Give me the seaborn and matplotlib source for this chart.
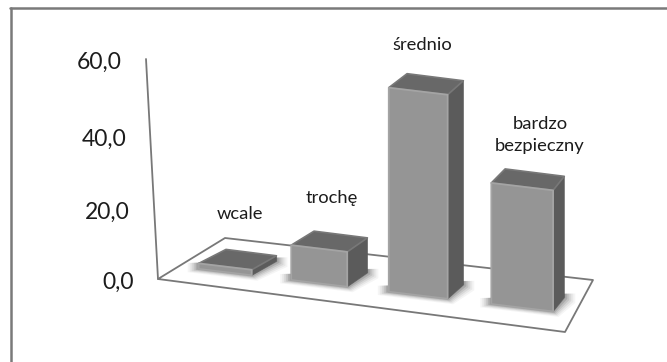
import matplotlib
matplotlib.use("Agg")
import matplotlib.pyplot as plt
import numpy as np
import pandas as pd
import seaborn as sns
from matplotlib.patches import Polygon, Rectangle
from matplotlib.lines import Line2D
from matplotlib.transforms import Affine2D, Transform

W, H = 667, 362

categories = ["wcale", "trochę", "średnio", "bardzo\nbezpieczny"]
values = [1.5, 9.5, 55.6, 33.0]
tick_values = [0, 20, 40, 60]
tick_labels = ["0,0", "20,0", "40,0", "60,0"]

FRONT = "#959595"
FRONT_RIM = "#a4a4a4"
SIDE = "#5b5b5b"
TOP = "#686868"
TOP_RIM = "#787878"
LINE = "#787878"
TEXT = "#1c1c1c"

# Centre of each category name, in pixels
name_centres = [(240, 214), (332, 198), (422, 45), (540, 135)]


def px_x(x):
    return 225 + 91.5 * x + 2.5 * x * x


def px_y(x, v):
    return 280 + 0.12 * (px_x(x) - 291) - 3.67 * v


def depth(x):
    return 26 - 4.5 * x


class BarProjection(Transform):
    """Maps (category, value) to pixels on the receding floor line."""
    input_dims = output_dims = 2

    def transform_non_affine(self, pts):
        pts = np.asarray(pts, dtype=float)
        return np.column_stack([px_x(pts[:, 0]), H - px_y(pts[:, 0], pts[:, 1])])


sns.set_theme(style="white")
plt.rcParams["font.family"] = ["Lato", "DejaVu Sans"]

fig = plt.figure(figsize=(W / 100, H / 100), dpi=100, facecolor="white")
ax = fig.add_axes([0, 0, 1, 1])
frame = pd.DataFrame({"level": categories, "share": values})
sns.barplot(data=frame, x="level", y="share", width=0.58, color=FRONT,
            saturation=1, ax=ax, zorder=5)
ax.set_xlim(-1, 5)
ax.set_ylim(-5, 70)
ax.axis("off")

to_px = Affine2D().scale(1, -1).translate(0, H)


def poly(points, **kw):
    ax.add_patch(Polygon(points, closed=True, transform=to_px, clip_on=False,
                         joinstyle="round", **kw))


# Chart border: only the top and left edges are visible
for a, b in [((10, 8), (667, 8)), ((11, 8), (11, 362))]:
    ax.add_line(Line2D(*zip(a, b), transform=to_px, color="#7a7a7a", lw=1.8,
                       clip_on=False, zorder=1))

# Floor and value wall edge
poly([(158, 279), (225, 238), (593, 280), (565, 332)], facecolor="white",
     edgecolor=LINE, lw=1.3, zorder=2)
ax.add_line(Line2D([146, 158], [59, 279], transform=to_px, color=LINE, lw=1.3,
                   clip_on=False, zorder=2))

for v, label in zip(tick_values, tick_labels):
    ax.text(134 - 0.2 * v, 282 - 3.36 * v - 0.005 * v * v, label, transform=to_px,
            ha="right", va="center", fontsize=16.5, color=TEXT)

projection = BarProjection()
bars = [p for p in ax.patches if isinstance(p, Rectangle)]
for bar, label, centre in zip(bars, categories, name_centres):
    x0, x1 = bar.get_x(), bar.get_x() + bar.get_width()
    v = bar.get_height()
    bar.set_transform(projection)
    bar.set_clip_on(False)
    bar.set_edgecolor(FRONT_RIM)
    bar.set_linewidth(1.3)
    bar.set_joinstyle("round")

    fl = (px_x(x0), px_y(x0, 0))
    fr = (px_x(x1), px_y(x1, 0))
    tl = (px_x(x0), px_y(x0, v))
    tr = (px_x(x1), px_y(x1, v))
    dl, dr = depth(x0), depth(x1)
    dy = -14
    bl_top = (tl[0] + dl, tl[1] + dy)
    br_top = (tr[0] + dr, tr[1] + dy)
    br_base = (fr[0] + dr, fr[1] + dy)

    # Soft contact shadow on the floor
    for grow, alpha in zip([11, 9, 7, 5, 3, 1], [0.04, 0.05, 0.07, 0.09, 0.12, 0.15]):
        poly([(fl[0] - grow, fl[1] + grow * 0.3), (fr[0] + grow * 0.5, fr[1] + grow * 0.5),
              (br_base[0] + grow, br_base[1] + grow * 0.5),
              (br_base[0] + grow, br_base[1] - 4), (fl[0] - grow, fl[1] - 6)],
             facecolor="black", edgecolor="none", alpha=alpha, zorder=3)

    # Receding faces of the bar
    poly([tr, br_top, br_base, fr], facecolor=SIDE, edgecolor=SIDE, lw=0.5, zorder=4)
    poly([tl, bl_top, br_top, tr], facecolor=TOP, edgecolor=TOP_RIM, lw=1.2, zorder=4)

    # Category name above the bar
    ax.text(centre[0], centre[1], label, transform=to_px, ha="center", va="center",
            fontsize=13.2, color=TEXT, linespacing=1.5)

fig.savefig("out.png", dpi=100, facecolor="white")
